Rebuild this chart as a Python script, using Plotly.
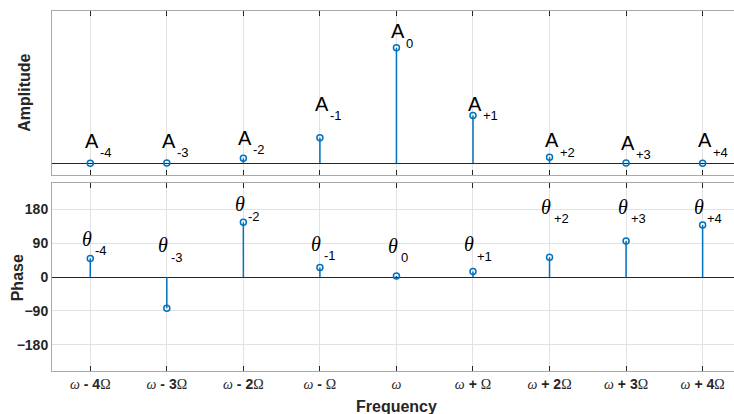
import plotly.graph_objects as go

# ---------------- data ----------------
harmonics = [-4, -3, -2, -1, 0, 1, 2, 3, 4]
sub_labels = ["-4", "-3", "-2", "-1", "0", "+1", "+2", "+3", "+4"]
freq_offsets = ["- 4", "- 3", "- 2", "- ", "", "+ ", "+ 2", "+ 3", "+ 4"]
amplitude = [0.0, 0.002, 0.043, 0.222, 1.0, 0.413, 0.052, 0.002, 0.0]
phase = [50, -83, 146, 26, 3, 15, 53, 96, 139]
phase_ticks = [-180, -90, 0, 90, 180]

# label heights (layout, in data units)
amp_label_y = [0.195, 0.195, 0.22, 0.514, 1.145, 0.517, 0.198, 0.18, 0.198]
phase_label_y = [102, 85.5, 194, 88.7, 84, 88, 187, 187, 187]

STEM = "#0072BD"
DARK = "#262626"
BOX = "#a8a8a8"
GRID = "#e2e2e2"
SANS = "Liberation Sans"
SERIF = "Liberation Serif"

def ticktext(off):
    w = "<span style='font-family:Liberation Serif;font-style:italic;font-weight:normal'>ω</span>"
    if off == "":
        return w
    if off.endswith(" "):
        return w + " " + off + "<span style='font-family:Liberation Serif;font-weight:normal'>Ω</span>"
    return w + " " + off + "<span style='font-family:Liberation Serif;font-weight:normal'>Ω</span>"

tick_text = [ticktext(o) for o in freq_offsets]

def stems(xs, ys):
    sx, sy = [], []
    for x, y in zip(xs, ys):
        sx += [x, x, None]
        sy += [0, y, None]
    return sx, sy

fig = go.Figure()
for vals, xa, ya in [(amplitude, "x", "y"), (phase, "x2", "y2")]:
    sx, sy = stems(harmonics, vals)
    fig.add_trace(go.Scatter(x=sx, y=sy, mode="lines", xaxis=xa, yaxis=ya,
                             line=dict(color=STEM, width=1.5), showlegend=False,
                             hoverinfo="skip"))
    fig.add_trace(go.Scatter(x=harmonics, y=vals, mode="markers", xaxis=xa, yaxis=ya,
                             marker=dict(symbol="circle-open", size=6, color=STEM,
                                         line=dict(width=1.5, color=STEM)),
                             showlegend=False))

annotations = []
for h, s, ly in zip(harmonics, sub_labels, amp_label_y):
    annotations.append(dict(x=h, y=ly, xref="x", yref="y", text="A", showarrow=False,
                            xanchor="center", yanchor="middle", xshift=2,
                            font=dict(family=SANS, size=20, color="black")))
    annotations.append(dict(x=h, y=ly, xref="x", yref="y", text=s, showarrow=False,
                            xanchor="left", yanchor="middle", xshift=8, yshift=-12,
                            font=dict(family=SANS, size=13, color="black")))
for h, s, ly in zip(harmonics, sub_labels, phase_label_y):
    annotations.append(dict(x=h, y=ly, xref="x2", yref="y2", text="<i>θ</i>", showarrow=False,
                            xanchor="center", yanchor="middle", xshift=-3.5,
                            font=dict(family=SERIF, size=20, color="black")))
    annotations.append(dict(x=h, y=ly, xref="x2", yref="y2", text=s, showarrow=False,
                            xanchor="left", yanchor="middle", xshift=2.5, yshift=-12,
                            font=dict(family=SANS, size=13, color="black")))

title_font = dict(family=SANS, size=16, color=DARK, weight="bold")
annotations.append(dict(x=(25 - 52) / 682, y=(414 - 92.8) / 414, xref="paper", yref="paper",
                        text="Amplitude", textangle=-90, showarrow=False,
                        xanchor="center", yanchor="middle", font=title_font))
annotations.append(dict(x=(17.8 - 52) / 682, y=(414 - 277.5) / 414, xref="paper", yref="paper",
                        text="Phase", textangle=-90, showarrow=False,
                        xanchor="center", yanchor="middle", font=title_font))
annotations.append(dict(x=(396.7 - 52) / 682, y=(414 - 406.7) / 414, xref="paper", yref="paper",
                        text="Frequency", showarrow=False,
                        xanchor="center", yanchor="middle", font=title_font))

xcommon = dict(range=[-4.5, 4.41], tickvals=harmonics, ticks="inside", ticklen=5,
               tickcolor=DARK, tickwidth=1, showline=True, linecolor=BOX, linewidth=1,
               mirror="ticks", showgrid=True, gridcolor=GRID, gridwidth=1, zeroline=False)

fig.update_layout(
    width=734, height=414,
    margin=dict(l=52, r=0, t=0, b=0),
    paper_bgcolor="white", plot_bgcolor="white",
    showlegend=False,
    xaxis=dict(xcommon, anchor="y", showticklabels=False),
    yaxis=dict(domain=[239 / 414, 403.3 / 414], range=[-0.101, 1.321], showticklabels=False,
               showgrid=False, zeroline=True, zerolinecolor=DARK, zerolinewidth=1.2,
               showline=True, linecolor=BOX, linewidth=1, mirror=False, ticks=""),
    xaxis2=dict(xcommon, anchor="y2", ticktext=tick_text, showticklabels=True,
                tickfont=dict(family=SANS, size=14, color=DARK, weight="bold")),
    yaxis2=dict(domain=[43 / 414, 230.7 / 414], range=[-250, 250], tickvals=phase_ticks,
                showgrid=True, gridcolor=GRID, zeroline=True, zerolinecolor=DARK,
                zerolinewidth=1.2, showline=True, linecolor=BOX, linewidth=1, mirror=False,
                ticks="", tickfont=dict(family=SANS, size=14, color=DARK, weight="bold")),
    annotations=annotations,
)

fig.write_html("out.html")
